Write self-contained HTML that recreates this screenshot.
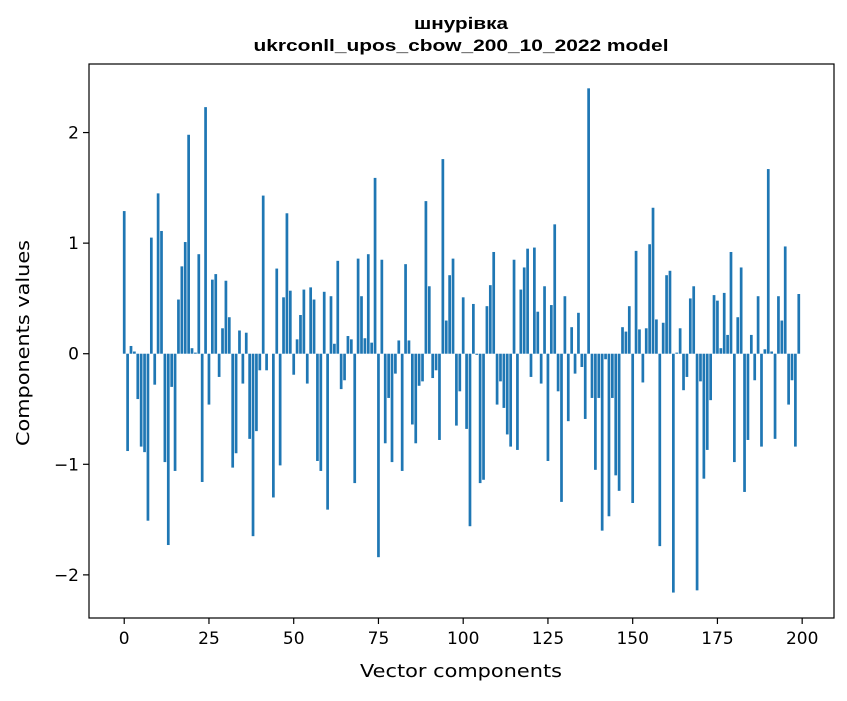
<!DOCTYPE html>
<html><head><meta charset="utf-8"><style>
body{margin:0;background:#fff}
svg text{font-family:"DejaVu Sans","Liberation Sans",sans-serif;fill:#000}
</style></head><body>
<svg id="chart" width="847" height="696" viewBox="0 0 847 696" xmlns="http://www.w3.org/2000/svg">
<rect width="847" height="696" fill="#fff"/>
<text x="461" y="29" font-size="17" font-weight="bold" text-anchor="middle" style="font-family:'Liberation Sans',sans-serif" textLength="94" lengthAdjust="spacingAndGlyphs">шнурівка</text>
<text x="461" y="51" font-size="17" font-weight="bold" text-anchor="middle" style="font-family:'Liberation Sans',sans-serif" textLength="415" lengthAdjust="spacingAndGlyphs">ukrconll_upos_cbow_200_10_2022 model</text>
<g id="bars"></g>
<g id="axes"></g>
<rect x="89" y="64" width="745" height="554" fill="none" stroke="#000" stroke-width="1.2"/>
<text x="461" y="677" font-size="18" text-anchor="middle" textLength="202" lengthAdjust="spacingAndGlyphs">Vector components</text>
<text transform="translate(29,343) rotate(-90)" font-size="18" text-anchor="middle" textLength="206" lengthAdjust="spacingAndGlyphs">Components values</text>
</svg>
<script>
const values = [1.29,-0.88,0.07,0.02,-0.41,-0.84,-0.89,-1.51,1.05,-0.28,1.45,1.11,-0.98,-1.73,-0.30,-1.06,0.49,0.79,1.01,1.98,0.05,0.01,0.90,-1.16,2.23,-0.46,0.67,0.72,-0.21,0.23,0.66,0.33,-1.03,-0.90,0.21,-0.27,0.19,-0.77,-1.65,-0.70,-0.15,1.43,-0.15,0.00,-1.30,0.77,-1.01,0.51,1.27,0.57,
-0.19,0.13,0.35,0.58,-0.27,0.60,0.49,-0.97,-1.06,0.56,-1.41,0.52,0.09,0.84,-0.32,-0.24,0.16,0.13,-1.17,0.86,0.52,0.14,0.90,0.10,1.59,-1.84,0.85,-0.81,-0.40,-0.98,-0.18,0.12,-1.06,0.81,0.12,-0.64,-0.81,-0.29,-0.25,1.38,0.61,-0.22,-0.15,-0.78,1.76,0.30,0.71,0.86,-0.65,-0.34,
0.51,-0.68,-1.56,0.45,-0.01,-1.17,-1.14,0.43,0.62,0.92,-0.46,-0.25,-0.49,-0.73,-0.84,0.85,-0.87,0.58,0.78,0.95,-0.21,0.96,0.38,-0.27,0.61,-0.97,0.44,1.17,-0.34,-1.34,0.52,-0.61,0.24,-0.18,0.37,-0.12,-0.59,2.40,-0.40,-1.05,-0.40,-1.60,-0.05,-1.47,-0.40,-1.10,-1.24,0.24,0.20,0.43,
-1.35,0.93,0.22,-0.26,0.23,0.99,1.32,0.31,-1.74,0.28,0.71,0.75,-2.16,0.01,0.23,-0.33,-0.21,0.50,0.61,-2.14,-0.25,-1.13,-0.87,-0.42,0.53,0.48,0.05,0.55,0.17,0.92,-0.98,0.33,0.78,-1.25,-0.78,0.17,-0.24,0.52,-0.84,0.04,1.67,0.02,-0.77,0.52,0.30,0.97,-0.46,-0.24,-0.84,0.54];
const xTicks = [0,25,50,75,100,125,150,175,200];
const yTicks = [-2,-1,0,1,2];
const yTickLabels = ["\u22122","\u22121","0","1","2"];
const NS="http://www.w3.org/2000/svg";
const L=89,R=834,T=64,B=618;
const xMin=-10.39,xMax=209.39,yMin=-2.39,yMax=2.62;
const xs=v=>L+(v-xMin)/(xMax-xMin)*(R-L);
const ys=v=>T+(yMax-v)/(yMax-yMin)*(B-T);
const bars=document.getElementById('bars');
values.forEach((v,i)=>{
  const r=document.createElementNS(NS,'rect');
  const x0=xs(i-0.4),x1=xs(i+0.4);
  const y0=ys(Math.max(v,0)),y1=ys(Math.min(v,0));
  r.setAttribute('x',x0);r.setAttribute('width',x1-x0);
  r.setAttribute('y',y0);r.setAttribute('height',Math.max(y1-y0,0.01));
  r.setAttribute('fill','#1f77b4');
  
  
  bars.appendChild(r);
});
const axes=document.getElementById('axes');
xTicks.forEach(t=>{
  const x=xs(t);
  const l=document.createElementNS(NS,'line');
  l.setAttribute('x1',x);l.setAttribute('x2',x);l.setAttribute('y1',B);l.setAttribute('y2',B+6);
  l.setAttribute('stroke','#000');l.setAttribute('stroke-width','1.2');
  
  
  axes.appendChild(l);
  const tx=document.createElementNS(NS,'text');
  tx.setAttribute('x',x);tx.setAttribute('y',B+26);tx.setAttribute('font-size','17');tx.setAttribute('text-anchor','middle');
  tx.textContent=t;
  
  
  axes.appendChild(tx);
});
yTicks.forEach((t,k)=>{
  const y=ys(t);
  const l=document.createElementNS(NS,'line');
  l.setAttribute('x1',L-6);l.setAttribute('x2',L);l.setAttribute('y1',y);l.setAttribute('y2',y);
  l.setAttribute('stroke','#000');l.setAttribute('stroke-width','1.2');
  
  
  axes.appendChild(l);
  const tx=document.createElementNS(NS,'text');
  tx.setAttribute('x',L-10);tx.setAttribute('y',y+6);tx.setAttribute('font-size','17');tx.setAttribute('text-anchor','end');
  tx.textContent=yTickLabels[k];
  
  
  axes.appendChild(tx);
});
</script>
</body></html>
